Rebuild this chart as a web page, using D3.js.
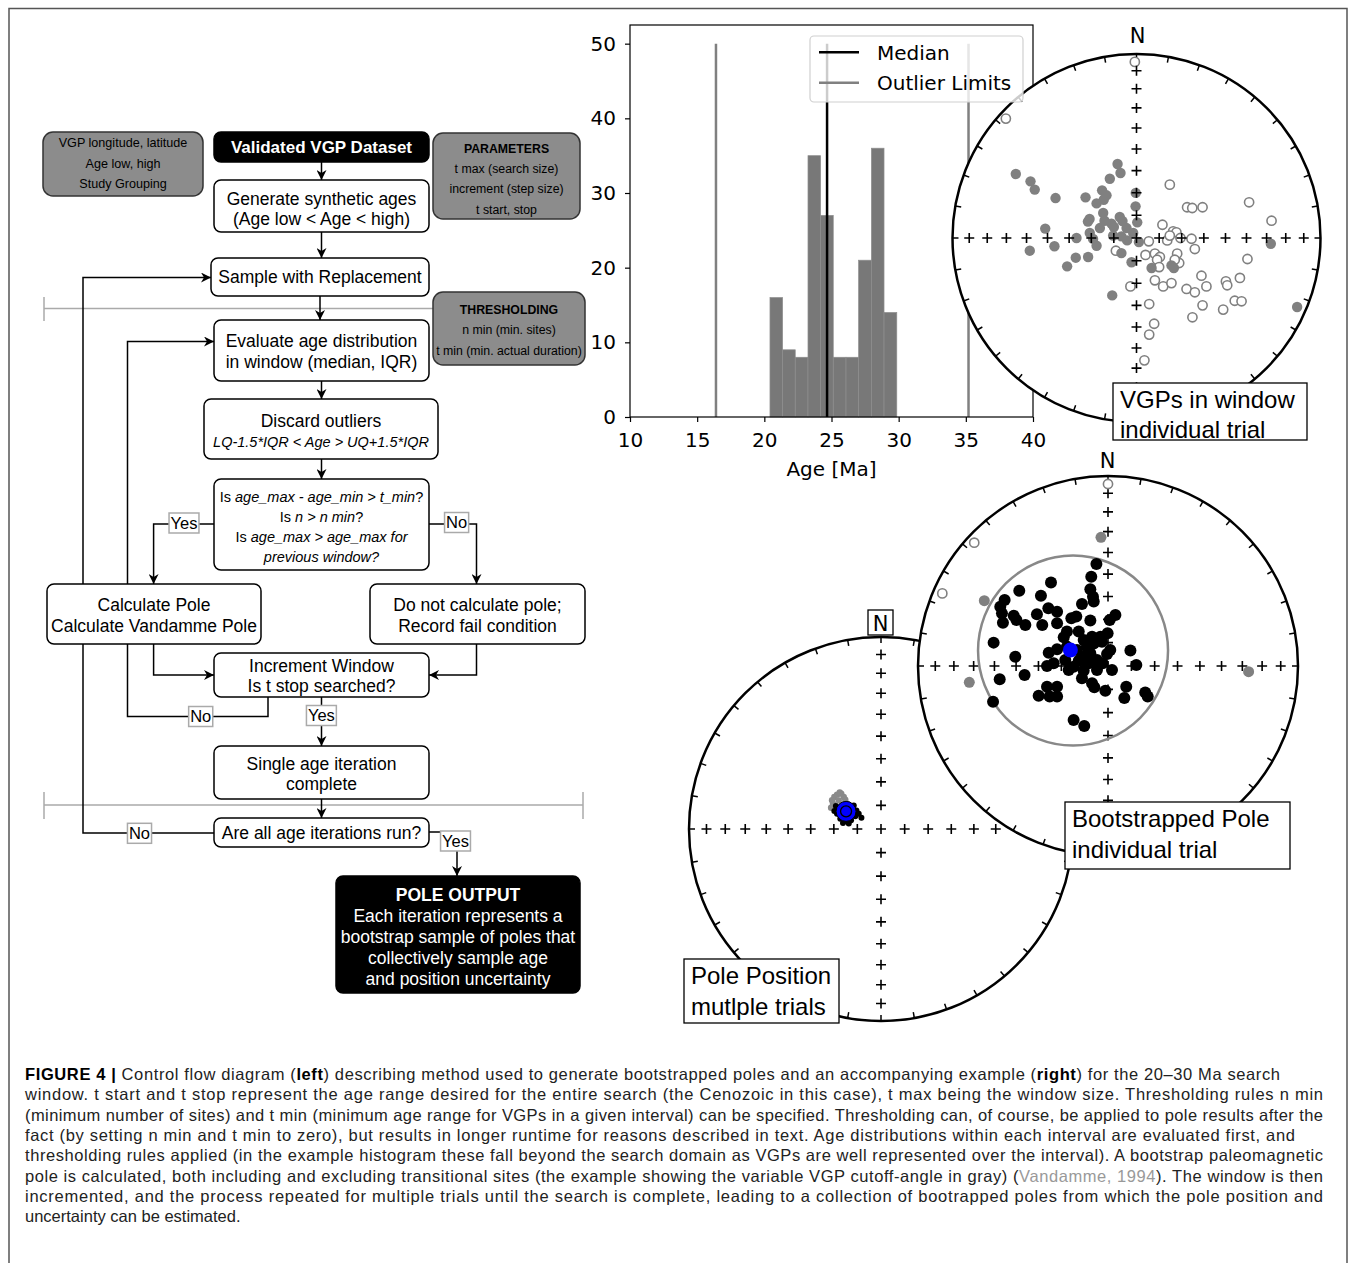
<!DOCTYPE html>
<html>
<head>
<meta charset="utf-8">
<script src="https://cdn.jsdelivr.net/npm/d3@7"></script>
<style>
  body { margin: 0; background: #fff; }
  svg { display: block; }
</style>
</head>
<body>
<svg id="fig" width="1355" height="1263"></svg>
<script>
// ---------- data ----------
const ageBinEdges = [20.42, 21.36, 22.30, 23.25, 24.19, 25.13, 26.08, 27.02, 27.97, 28.91, 29.86];
const ageCounts = [16, 9, 8, 35, 27, 8, 8, 21, 36, 14];
const medianAge = 24.67;
const outlierLimits = [16.4, 35.2];
const ageTicks = [10, 15, 20, 25, 30, 35, 40];
const countTicks = [0, 10, 20, 30, 40, 50];
const legendItems = [
  { label: "Median", color: "#000" },
  { label: "Outlier Limits", color: "#808080" }
];

// stereonet graticule (degrees)
const netColatitudes = [10, 20, 30, 40, 50, 60, 70, 80];
const rimAzimuths = d3.range(0, 360, 10);

// VGPs in window (projected x = east, y = north, unit radius)
const vgpFilled = [
  [-0.656, 0.348], [-0.576, 0.308], [-0.553, 0.263], [-0.440, 0.217], [-0.277, 0.221],
  [-0.217, 0.188], [-0.187, 0.259], [-0.163, 0.232], [-0.145, 0.322], [-0.103, 0.402],
  [-0.087, 0.353], [-0.004, 0.245], [-0.005, 0.172], [0.004, 0.085], [-0.255, 0.103],
  [-0.264, 0.089], [-0.181, 0.136], [-0.174, 0.094], [-0.136, 0.078], [-0.123, 0.060],
  [-0.091, 0.114], [-0.076, 0.092], [-0.054, 0.054], [-0.496, 0.051], [-0.326, 0.000],
  [-0.236, -0.005], [-0.217, -0.042], [-0.127, 0.013], [-0.082, 0.009], [-0.051, -0.013],
  [-0.018, 0.027], [0.013, -0.022], [-0.580, -0.069], [-0.446, -0.045], [-0.377, -0.154],
  [-0.330, -0.107], [-0.263, -0.103], [-0.082, -0.082], [-0.027, -0.132], [0.082, -0.163],
  [0.190, -0.149], [0.203, -0.163], [-0.132, -0.312], [0.730, -0.031], [0.873, -0.375],
  [-0.178, 0.208], [-0.254, 0.027], [-0.199, 0.054]
];
const vgpOpen = [
  [-0.009, 0.957], [-0.710, 0.649], [0.181, 0.290], [0.275, 0.167], [0.303, 0.163],
  [0.359, 0.167], [0.612, 0.194], [0.734, 0.094], [0.141, 0.072], [0.199, 0.036],
  [0.217, 0.031], [0.167, -0.013], [0.181, 0.013], [0.067, -0.018], [0.239, 0.000],
  [0.299, -0.004], [0.317, -0.060], [-0.112, -0.069], [0.049, -0.092], [0.100, -0.085],
  [0.127, -0.103], [0.112, -0.118], [0.221, -0.085], [0.232, -0.136], [0.208, -0.118],
  [0.123, -0.158], [0.603, -0.114], [0.353, -0.205], [0.100, -0.230], [0.145, -0.263],
  [0.190, -0.245], [0.272, -0.277], [0.317, -0.295], [0.380, -0.263], [0.486, -0.236],
  [0.493, -0.257], [0.562, -0.217], [-0.033, -0.263], [0.069, -0.359], [0.359, -0.366],
  [0.471, -0.389], [0.534, -0.341], [0.571, -0.344], [0.304, -0.431], [0.096, -0.466],
  [0.069, -0.525], [0.043, -0.665]
];

// bootstrapped pole, individual trial
const bootBlack = [
  [-0.061, 0.537], [-0.088, 0.470], [-0.093, 0.404], [-0.079, 0.365], [-0.300, 0.440],
  [-0.353, 0.370], [-0.467, 0.396], [-0.544, 0.347], [-0.567, 0.312], [-0.558, 0.277],
  [-0.553, 0.228], [-0.496, 0.265], [-0.482, 0.242], [-0.435, 0.216], [-0.374, 0.272],
  [-0.346, 0.216], [-0.314, 0.304], [-0.268, 0.286], [-0.268, 0.225], [-0.137, 0.326],
  [-0.193, 0.251], [-0.167, 0.260], [-0.093, 0.239], [0.009, 0.242], [0.039, 0.268],
  [-0.002, 0.172], [-0.216, 0.181], [-0.233, 0.151], [-0.154, 0.181], [-0.128, 0.137],
  [-0.075, 0.119], [-0.032, 0.128], [-0.602, 0.123], [-0.488, 0.049], [-0.312, 0.070],
  [-0.268, 0.088], [-0.321, 0.000], [-0.286, 0.014], [-0.225, 0.032], [-0.207, -0.021],
  [-0.181, -0.004], [-0.128, 0.049], [-0.093, 0.067], [-0.058, 0.032], [-0.028, 0.014],
  [0.012, 0.084], [0.118, 0.081], [0.149, 0.005], [0.021, -0.021], [-0.439, -0.047],
  [-0.570, -0.070], [-0.137, -0.065], [-0.084, -0.091], [-0.072, -0.112], [-0.014, -0.130],
  [0.096, -0.109], [0.086, -0.168], [0.196, -0.140], [0.209, -0.161], [-0.321, -0.109],
  [-0.268, -0.109], [-0.365, -0.156], [-0.307, -0.161], [-0.268, -0.161], [-0.605, -0.188],
  [-0.181, -0.284], [-0.125, -0.316], [-0.163, 0.084], [-0.111, 0.102], [-0.084, 0.154],
  [-0.040, 0.154], [-0.005, 0.063], [-0.216, 0.102], [-0.154, 0.028], [-0.128, -0.025],
  [-0.058, -0.021], [-0.102, 0.014], [-0.075, 0.339]
];
const bootGray = [[-0.037, 0.677], [-0.651, 0.344], [-0.730, -0.086], [0.740, -0.030]];
const bootOpen = [[0.000, 0.958], [-0.704, 0.649], [-0.872, 0.382]];
const bootMean = [-0.198, 0.084];
const bootCutoff = { center: [-0.184, 0.081], radius: 0.5 };

// pole position, multiple trials
const trialGray = [
  [-0.243, 0.167], [-0.229, 0.179], [-0.207, 0.184], [-0.194, 0.167], [-0.250, 0.132],
  [-0.260, 0.111], [-0.220, 0.149], [-0.186, 0.153], [-0.238, 0.101], [-0.177, 0.132],
  [-0.215, 0.190], [-0.255, 0.150]
];
const trialBlack = [
  [-0.229, 0.080], [-0.212, 0.054], [-0.186, 0.042], [-0.156, 0.045], [-0.134, 0.066],
  [-0.128, 0.097], [-0.142, 0.123], [-0.102, 0.059], [-0.198, 0.031], [-0.168, 0.028],
  [-0.243, 0.094], [-0.116, 0.080], [-0.150, 0.110], [-0.235, 0.120]
];
const trialMean = [-0.182, 0.092];

// flowchart text (segments: string = normal, {i:..} italic, {b:..} bold)
const flowText = {
  inputs: [["VGP longitude, latitude"], ["Age low, high"], ["Study Grouping"]],
  validated: [[{ b: "Validated VGP Dataset" }]],
  params: [[{ b: "PARAMETERS" }], ["t max (search size)"], ["increment (step size)"], ["t start, stop"]],
  generate: [["Generate synthetic ages"], ["(Age low < Age < high)"]],
  sample: [["Sample with Replacement"]],
  thresh: [[{ b: "THRESHOLDING" }], ["n min (min. sites)"], ["t min (min. actual duration)"]],
  evaluate: [["Evaluate age distribution"], ["in window (median, IQR)"]],
  discard: [["Discard outliers"], [{ i: "LQ-1.5*IQR < Age > UQ+1.5*IQR" }]],
  decision: [["Is ", { i: "age_max - age_min > t_min" }, "?"], ["Is ", { i: "n > n min" }, "?"],
             ["Is ", { i: "age_max > age_max for" }], [{ i: "previous window?" }]],
  calc: [["Calculate Pole"], ["Calculate Vandamme Pole"]],
  donot: [["Do not calculate pole;"], ["Record fail condition"]],
  increment: [["Increment Window"], ["Is t stop searched?"]],
  single: [["Single age iteration"], ["complete"]],
  areall: [["Are all age iterations run?"]],
  output: [[{ b: "POLE OUTPUT" }], ["Each iteration represents a"], ["bootstrap sample of poles that"],
           ["collectively sample age"], ["and position uncertainty"]]
};

const captionLines = [
  [{ t: "FIGURE 4 | ", b: true }, { t: "Control flow diagram (" }, { t: "left", b: true },
   { t: ") describing method used to generate bootstrapped poles and an accompanying example (" },
   { t: "right", b: true }, { t: ") for the 20–30 Ma search" }],
  [{ t: "window. t start and t stop represent the age range desired for the entire search (the Cenozoic in this case), t max being the window size. Thresholding rules n min" }],
  [{ t: "(minimum number of sites) and t min (minimum age range for VGPs in a given interval) can be specified. Thresholding can, of course, be applied to pole results after the" }],
  [{ t: "fact (by setting n min and t min to zero), but results in longer runtime for reasons described in text. Age distributions within each interval are evaluated first, and" }],
  [{ t: "thresholding rules applied (in the example histogram these fall beyond the search domain as VGPs are well represented over the interval). A bootstrap paleomagnetic" }],
  [{ t: "pole is calculated, both including and excluding transitional sites (the example showing the variable VGP cutoff-angle in gray) (" },
   { t: "Vandamme, 1994", gray: true }, { t: "). The window is then" }],
  [{ t: "incremented, and the process repeated for multiple trials until the search is complete, leading to a collection of bootrapped poles from which the pole position and" }],
  [{ t: "uncertainty can be estimated." }]
];

// ---------- layout ----------
const svg = d3.select("#fig");
const SANS = "'Liberation Sans', Arial, Helvetica, sans-serif";
const MPL = "'DejaVu Sans', sans-serif";

svg.append("rect")
  .attr("x", 9).attr("y", 8.5).attr("width", 1338).attr("height", 1270)
  .attr("fill", "none").attr("stroke", "#555").attr("stroke-width", 1.5);

svg.append("defs").append("marker")
  .attr("id", "arr").attr("viewBox", "0 0 10 10")
  .attr("refX", 10).attr("refY", 5)
  .attr("markerWidth", 10).attr("markerHeight", 10)
  .attr("markerUnits", "userSpaceOnUse").attr("orient", "auto")
  .append("path").attr("d", "M0,0 L10,5 L0,10 L3,5 Z").attr("fill", "#000");

function addLines(g, cx, cys, lines, sizes, color) {
  lines.forEach((segs, i) => {
    const size = Array.isArray(sizes) ? sizes[i] : sizes;
    const t = g.append("text")
      .attr("x", cx).attr("y", cys[i]).attr("dy", "0.36em")
      .attr("text-anchor", "middle")
      .attr("font-size", size).attr("fill", color);
    segs.forEach(s => {
      const sp = t.append("tspan");
      if (typeof s === "string") sp.text(s);
      else if (s.i) sp.text(s.i).attr("font-style", "italic");
      else if (s.b) sp.text(s.b).attr("font-weight", "bold");
    });
  });
}

// ---------- flowchart ----------
const flowLayout = {
  inputs:    { x: 43,  y: 132, w: 160, h: 64,  kind: "param", size: 12.6, cy: [142.7, 163, 183.3] },
  validated: { x: 214, y: 132, w: 215, h: 30,  kind: "dark",  size: 17,   cy: [147] },
  params:    { x: 433, y: 133, w: 147, h: 86,  kind: "param", size: 12.3, cy: [148.3, 168.3, 188.3, 209.3] },
  generate:  { x: 214, y: 180, w: 215, h: 52,  kind: "plain", size: 17.5, cy: [198.5, 218.5] },
  sample:    { x: 211, y: 258, w: 218, h: 38,  kind: "plain", size: 17.5, cy: [277] },
  thresh:    { x: 433, y: 292, w: 152, h: 73,  kind: "param", size: 12.3, cy: [310, 330, 350.5] },
  evaluate:  { x: 214, y: 320, w: 215, h: 61,  kind: "plain", size: 17.5, cy: [341, 362] },
  discard:   { x: 204, y: 399, w: 234, h: 60,  kind: "plain", size: [17.5, 14.5], cy: [420.5, 442] },
  decision:  { x: 214, y: 479, w: 215, h: 91,  kind: "plain", size: 14.5, cy: [497, 517, 537, 557] },
  calc:      { x: 47,  y: 584, w: 214, h: 60,  kind: "plain", size: 17.5, cy: [605, 626] },
  donot:     { x: 370, y: 584, w: 215, h: 60,  kind: "plain", size: 17.5, cy: [605, 626] },
  increment: { x: 214, y: 653, w: 215, h: 44,  kind: "plain", size: 17.5, cy: [666, 686] },
  single:    { x: 214, y: 746, w: 215, h: 53,  kind: "plain", size: 17.5, cy: [764, 784] },
  areall:    { x: 214, y: 818, w: 215, h: 29,  kind: "plain", size: 17.5, cy: [833] },
  output:    { x: 336, y: 876, w: 244, h: 117, kind: "dark",  size: 17.5, cy: [895, 915.7, 936.7, 957.7, 979] }
};

const flow = svg.append("g").attr("font-family", SANS);

// separators
const sepG = flow.append("g").attr("stroke", "#aaa").attr("stroke-width", 1.5);
sepG.append("line").attr("x1", 44).attr("x2", 583).attr("y1", 308.5).attr("y2", 308.5);
sepG.append("line").attr("x1", 44).attr("x2", 44).attr("y1", 297).attr("y2", 321);
sepG.append("line").attr("x1", 44).attr("x2", 583).attr("y1", 805).attr("y2", 805);
sepG.append("line").attr("x1", 44).attr("x2", 44).attr("y1", 792).attr("y2", 819);
sepG.append("line").attr("x1", 583).attr("x2", 583).attr("y1", 792).attr("y2", 819);

// connectors
const connectors = [
  [[321.5, 162], [321.5, 180]],
  [[321.5, 232], [321.5, 258]],
  [[320, 296], [320, 320]],
  [[321.5, 381], [321.5, 399]],
  [[321.5, 459], [321.5, 479]],
  [[214, 524], [153.6, 524], [153.6, 584]],
  [[429, 524], [476.5, 524], [476.5, 584]],
  [[153.6, 644], [153.6, 675], [214, 675]],
  [[476.5, 644], [476.5, 675], [429, 675]],
  [[268, 697], [268, 716.5], [127.5, 716.5], [127.5, 341.5], [214, 341.5]],
  [[321.5, 697], [321.5, 746]],
  [[321.5, 799], [321.5, 818]],
  [[214, 833], [83, 833], [83, 277.5], [211, 277.5]],
  [[429, 832], [457, 832], [457, 876]]
];
flow.append("g").selectAll("path").data(connectors).join("path")
  .attr("d", d3.line())
  .attr("fill", "none").attr("stroke", "#000").attr("stroke-width", 1.5)
  .attr("marker-end", "url(#arr)");

// boxes
Object.entries(flowLayout).forEach(([id, L]) => {
  const g = flow.append("g");
  const fill = L.kind === "dark" ? "#000" : L.kind === "param" ? "#8c8c8c" : "#fff";
  g.append("rect")
    .attr("x", L.x).attr("y", L.y).attr("width", L.w).attr("height", L.h)
    .attr("rx", L.kind === "param" ? 10 : 7)
    .attr("fill", fill).attr("stroke", L.kind === "param" ? "#333" : "#000")
    .attr("stroke-width", 1.5);
  addLines(g, L.x + L.w / 2, L.cy, flowText[id], L.size, L.kind === "dark" ? "#fff" : "#000");
});

// yes / no tags
const flowTags = [
  { t: "Yes", x: 184, y: 523 }, { t: "No", x: 456.6, y: 522.5 },
  { t: "No", x: 200.7, y: 716.5 }, { t: "Yes", x: 321.4, y: 715.5 },
  { t: "No", x: 139.5, y: 833.3 }, { t: "Yes", x: 455.5, y: 841 }
];
flowTags.forEach(d => {
  const g = flow.append("g");
  const txt = g.append("text").attr("x", d.x).attr("y", d.y).attr("dy", "0.36em")
    .attr("text-anchor", "middle").attr("font-size", 16.5).text(d.t);
  const w = txt.node().getComputedTextLength() + 3;
  g.insert("rect", "text")
    .attr("x", d.x - w / 2).attr("y", d.y - 10).attr("width", w).attr("height", 20)
    .attr("fill", "#fff").attr("stroke", "#aaa").attr("stroke-width", 1.5);
});

// ---------- histogram ----------
const hx = d3.scaleLinear().domain([10, 40]).range([630, 1033]);
const hy = d3.scaleLinear().domain([0, 52.5]).range([417, 25]);
const hist = svg.append("g").attr("font-family", MPL);

hist.append("g").selectAll("rect").data(ageCounts).join("rect")
  .attr("x", (d, i) => hx(ageBinEdges[i]))
  .attr("width", (d, i) => hx(ageBinEdges[i + 1]) - hx(ageBinEdges[i]))
  .attr("y", d => hy(d))
  .attr("height", d => hy(0) - hy(d))
  .attr("fill", "#787878").attr("stroke", "#8e8e8e").attr("stroke-width", 0.7);

hist.append("g").selectAll("line").data(outlierLimits).join("line")
  .attr("x1", d => hx(d)).attr("x2", d => hx(d))
  .attr("y1", hy(0)).attr("y2", hy(50))
  .attr("stroke", "#808080").attr("stroke-width", 2.5);
hist.append("line")
  .attr("x1", hx(medianAge)).attr("x2", hx(medianAge))
  .attr("y1", hy(0)).attr("y2", hy(50))
  .attr("stroke", "#000").attr("stroke-width", 2.5);

hist.append("rect")
  .attr("x", hx(10)).attr("y", hy(52.5))
  .attr("width", hx(40) - hx(10)).attr("height", hy(0) - hy(52.5))
  .attr("fill", "none").attr("stroke", "#000").attr("stroke-width", 1.2);

const xAxis = hist.append("g").attr("transform", `translate(0,${hy(0)})`)
  .call(d3.axisBottom(hx).tickValues(ageTicks).tickSize(5).tickPadding(11).tickFormat(d3.format("d")));
const yAxis = hist.append("g").attr("transform", `translate(${hx(10)},0)`)
  .call(d3.axisLeft(hy).tickValues(countTicks).tickSize(5).tickPadding(9).tickFormat(d3.format("d")));
[xAxis, yAxis].forEach(a => {
  a.select(".domain").remove();
  a.selectAll("text").attr("font-family", MPL).attr("font-size", 20).attr("fill", "#000");
  a.selectAll("line").attr("stroke", "#000").attr("stroke-width", 1.2);
});
hist.append("text")
  .attr("x", (hx(10) + hx(40)) / 2).attr("y", 476)
  .attr("text-anchor", "middle").attr("font-size", 20).text("Age [Ma]");

// ---------- stereonets ----------
const eqArea = c => Math.SQRT2 * Math.sin(c * Math.PI / 360);

function drawNet(cx, cy, r) {
  const g = svg.append("g");
  const sx = d3.scaleLinear().domain([-1, 1]).range([cx - r, cx + r]);
  const sy = d3.scaleLinear().domain([-1, 1]).range([cy + r, cy - r]);
  g.append("circle").attr("cx", cx).attr("cy", cy).attr("r", r)
    .attr("fill", "#fff").attr("stroke", "#000").attr("stroke-width", 2.5);
  g.append("g").selectAll("line").data(rimAzimuths).join("line")
    .attr("x1", a => cx + r * Math.sin(a * Math.PI / 180))
    .attr("y1", a => cy - r * Math.cos(a * Math.PI / 180))
    .attr("x2", a => cx + (r - 6) * Math.sin(a * Math.PI / 180))
    .attr("y2", a => cy - (r - 6) * Math.cos(a * Math.PI / 180))
    .attr("stroke", "#000").attr("stroke-width", 1.5);
  return { g, sx, sy, cx, cy, r };
}

function drawCrosses(net) {
  const pts = [[0, 0]];
  netColatitudes.forEach(c => {
    const d = eqArea(c);
    pts.push([d, 0], [-d, 0], [0, d], [0, -d]);
  });
  net.g.append("g").selectAll("path").data(pts).join("path")
    .attr("d", d => `M${net.sx(d[0]) - 5},${net.sy(d[1])}h10M${net.sx(d[0])},${net.sy(d[1]) - 5}v10`)
    .attr("stroke", "#000").attr("stroke-width", 1.6);
}

function drawDots(net, data, r, fill, stroke, sw) {
  net.g.append("g").selectAll("circle").data(data).join("circle")
    .attr("cx", d => net.sx(d[0])).attr("cy", d => net.sy(d[1])).attr("r", r)
    .attr("fill", fill).attr("stroke", stroke || "none").attr("stroke-width", sw || 0);
}

function labelBox(x, y, w, h, lines, size, lh) {
  const g = svg.append("g").attr("font-family", SANS);
  g.append("rect").attr("x", x).attr("y", y).attr("width", w).attr("height", h)
    .attr("fill", "#fff").attr("stroke", "#000").attr("stroke-width", 1.3);
  lines.forEach((t, i) => {
    g.append("text").attr("x", x + 7).attr("y", y + 16 + i * lh).attr("dy", "0.36em")
      .attr("font-size", size).text(t);
  });
}

// top: VGPs in window
const netA = drawNet(1136.5, 238, 184);
drawDots(netA, vgpOpen, 4.6, "#fff", "#808080", 1.6);
drawDots(netA, vgpFilled, 5.2, "#808080");
drawCrosses(netA);
svg.append("text").attr("font-family", MPL).attr("font-size", 21)
  .attr("x", 1137.5).attr("y", 43).attr("text-anchor", "middle").text("N");

// legend of histogram drawn over the net
const leg = svg.append("g").attr("font-family", MPL);
leg.append("rect").attr("x", 810).attr("y", 36).attr("width", 213).attr("height", 66).attr("rx", 4)
  .attr("fill", "#fff").attr("fill-opacity", 0.8).attr("stroke", "#d0d0d0").attr("stroke-width", 1.2);
legendItems.forEach((d, i) => {
  const y = 52.3 + i * 30.4;
  leg.append("line").attr("x1", 819).attr("x2", 859).attr("y1", y).attr("y2", y)
    .attr("stroke", d.color).attr("stroke-width", 2.5);
  leg.append("text").attr("x", 877).attr("y", y).attr("dy", "0.36em")
    .attr("font-size", 20).text(d.label);
});
labelBox(1113, 383, 194, 57, ["VGPs in window", "individual trial"], 24, 30);

// bottom: pole position, multiple trials
const netC = drawNet(881, 829, 192);
drawCrosses(netC);
drawDots(netC, trialGray, 3.2, "#8a8a8a");
drawDots(netC, trialBlack, 3, "#000");
drawDots(netC, [trialMean], 10, "#0000ff", "#000", 1);
drawDots(netC, [trialMean], 5.5, "none", "#000", 1.3);
svg.append("rect").attr("x", 868).attr("y", 610).attr("width", 25).attr("height", 25)
  .attr("fill", "#fff").attr("stroke", "#000").attr("stroke-width", 1.3);
svg.append("text").attr("font-family", MPL).attr("font-size", 21)
  .attr("x", 880.7).attr("y", 630.5).attr("text-anchor", "middle").text("N");
labelBox(684, 959, 155, 64, ["Pole Position", "mutlple trials"], 24, 31.5);

// middle: bootstrapped pole, individual trial
const netB = drawNet(1108, 666, 190);
drawCrosses(netB);
netB.g.append("circle")
  .attr("cx", netB.sx(bootCutoff.center[0])).attr("cy", netB.sy(bootCutoff.center[1]))
  .attr("r", netB.sx(bootCutoff.radius) - netB.sx(0))
  .attr("fill", "none").attr("stroke", "#888").attr("stroke-width", 2.5);
drawDots(netB, bootOpen, 4.6, "#fff", "#808080", 1.6);
drawDots(netB, bootGray, 5.5, "#808080");
drawDots(netB, bootBlack, 6, "#000");
drawDots(netB, [bootMean], 7.5, "#0000ff");
svg.append("text").attr("font-family", MPL).attr("font-size", 21)
  .attr("x", 1107.5).attr("y", 468).attr("text-anchor", "middle").text("N");
labelBox(1065, 802, 225, 67, ["Bootstrapped Pole", "individual trial"], 24, 31);

// ---------- caption ----------
const capX = 25, capY0 = 1080, capLH = 20.3;
const captionWidths = [1255, 1298, 1298, 1270, 1298, 1298, 1298, null];
const cap = svg.append("g").attr("font-family", SANS).attr("font-size", 16.5).attr("fill", "#222");
captionLines.forEach((segs, i) => {
  const t = cap.append("text").attr("x", capX).attr("y", capY0 + i * capLH);
  segs.forEach(s => {
    const sp = t.append("tspan").text(s.t);
    if (s.b) sp.attr("font-weight", "bold").attr("fill", "#000");
    if (s.gray) sp.attr("fill", "#999");
  });
  if (captionWidths[i]) t.attr("textLength", captionWidths[i]).attr("lengthAdjust", "spacing");
});
</script>
</body>
</html>
